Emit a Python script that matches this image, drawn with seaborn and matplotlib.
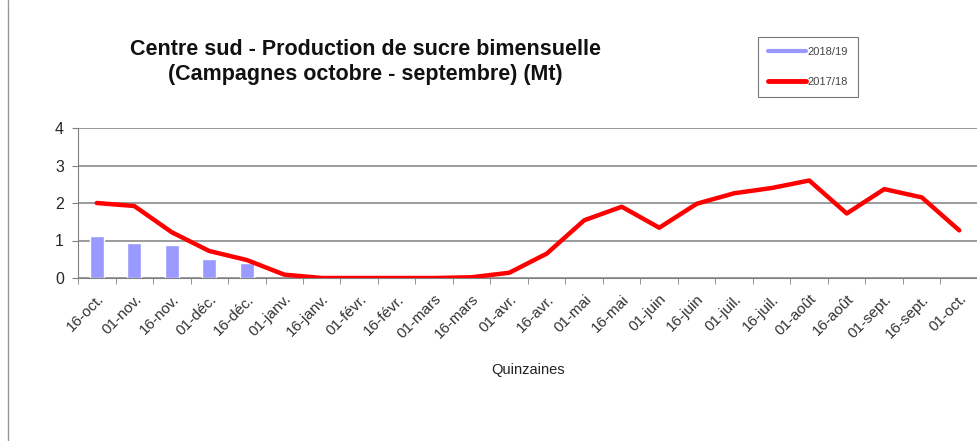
import numpy as np
import pandas as pd
import seaborn as sns
import matplotlib.pyplot as plt
from matplotlib.lines import Line2D

quinzaines = ['16-oct.', '01-nov.', '16-nov.', '01-déc.', '16-déc.', '01-janv.',
              '16-janv.', '01-févr.', '16-févr.', '01-mars', '16-mars', '01-avr.',
              '16-avr.', '01-mai', '16-mai', '01-juin', '16-juin', '01-juil.',
              '16-juil.', '01-août', '16-août', '01-sept.', '16-sept.', '01-oct.']
prod_2018_19 = [1.12, 0.94, 0.89, 0.50, 0.40] + [np.nan] * 19
prod_2017_18 = [2.00, 1.92, 1.22, 0.72, 0.48, 0.09, 0.00, 0.00, 0.00, 0.00, 0.02, 0.14,
                0.65, 1.54, 1.90, 1.34, 1.98, 2.26, 2.40, 2.60, 1.72, 2.37, 2.15, 1.27]

df = pd.DataFrame({'quinzaine': quinzaines, 'pos': np.arange(len(quinzaines)),
                   '2018/19': prod_2018_19, '2017/18': prod_2017_18})

sns.set_style('white')
plt.rcParams['font.family'] = ['Liberation Sans', 'DejaVu Sans']

fig = plt.figure(figsize=(9.77, 4.41), dpi=100)
ax = fig.add_axes([78 / 977, 1 - 278 / 441, 900 / 977, 150 / 441])

blue = '#9999FF'
red = '#FF0000'
sns.barplot(data=df, x='quinzaine', y='2018/19', order=quinzaines, color=blue,
            width=0.37, saturation=1, ax=ax, zorder=2)
sns.lineplot(data=df, x='pos', y='2017/18', color=red, linewidth=3.2, ax=ax, zorder=3)

ax.set_xlim(-0.5, len(quinzaines) - 0.5)
ax.set_ylim(0, 4)
ax.set_yticks([0, 1, 2, 3, 4])
ax.yaxis.grid(True, color='#808080', linewidth=1.1)
ax.set_axisbelow(True)
for side in ['top', 'right']:
    ax.spines[side].set_visible(False)
ax.spines['left'].set_color('#808080')
ax.spines['bottom'].set_color('#808080')

ax.set_xticks(np.arange(len(quinzaines)))
ax.set_xticklabels(quinzaines, rotation=45, ha='right', rotation_mode='anchor',
                   fontsize=11, color='#333333')
ax.set_xticks(np.arange(len(quinzaines) + 1) - 0.5, minor=True)
ax.tick_params(axis='x', which='major', length=0, pad=10)
ax.tick_params(axis='x', which='minor', length=4, color='#808080', bottom=True)
ax.tick_params(axis='y', length=4, color='#808080', left=True, labelsize=11.5, pad=6)
ax.set_xlabel('Quinzaines', fontsize=10.5, labelpad=16, color='#222222')
ax.set_ylabel('')

fig.text(0.374, 0.888, 'Centre sud - Production de sucre bimensuelle',
         ha='center', va='center', fontsize=15.5, fontweight='bold', color='#111111')
fig.text(0.374, 0.831, '(Campagnes octobre - septembre) (Mt)',
         ha='center', va='center', fontsize=15.5, fontweight='bold', color='#111111')

handles = [Line2D([0], [0], color=blue, linewidth=3),
           Line2D([0], [0], color=red, linewidth=3.5)]
leg = fig.legend(handles, ['2018/19', '2017/18'], loc='upper left',
                 bbox_to_anchor=(758 / 977, 1 - 37 / 441), fontsize=8,
                 frameon=True, fancybox=False, edgecolor='#555555',
                 labelspacing=1.8, handlelength=3.4, handletextpad=0.15,
                 borderpad=0.9, borderaxespad=0)
leg.get_frame().set_linewidth(0.8)
for t in leg.get_texts():
    t.set_color('#444444')

fig.add_artist(Line2D([8 / 977, 8 / 977], [0, 1], color='#999999', linewidth=1))

fig.savefig('out.png', dpi=100, facecolor='white')
